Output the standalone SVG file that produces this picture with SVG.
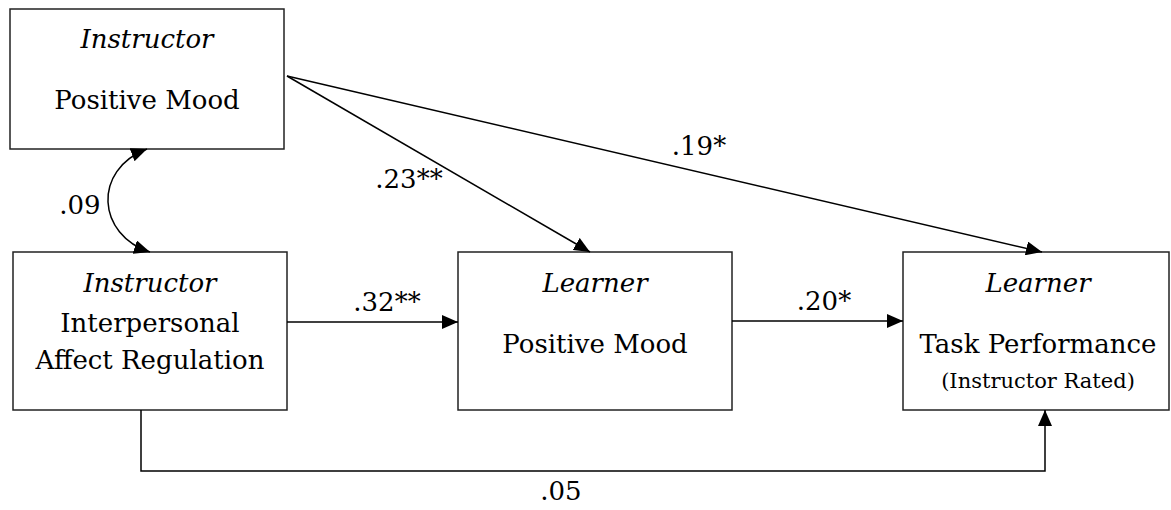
<svg xmlns="http://www.w3.org/2000/svg" width="1171" height="510" viewBox="0 0 1171 510">
<style>
.box{fill:#fff;stroke:#222;stroke-width:1.5}
.t{font-family:'DejaVu Serif','Liberation Serif',serif;font-size:26px;fill:#000;text-anchor:middle}
.i{font-style:italic}
.s{font-size:21px}
.c{fill:none;stroke:#000;stroke-width:1.5}
</style>
<defs>
<marker id="ah" markerUnits="userSpaceOnUse" markerWidth="16" markerHeight="14" refX="16" refY="7" orient="auto-start-reverse" viewBox="0 0 16 14">
<path d="M0,0 L16,7 L0,14 Z" fill="#000"/>
</marker>
</defs>
<rect width="1171" height="510" fill="#fff"/>
<g id="n1">
<rect class="box" x="10" y="9" width="274" height="140"/>
<text class="t i" x="147" y="48">Instructor</text>
<text class="t" x="147" y="109">Positive Mood</text>
</g>
<g id="n2">
<rect class="box" x="13" y="252" width="274" height="158"/>
<text class="t i" x="150" y="292">Instructor</text>
<text class="t" x="150" y="332">Interpersonal</text>
<text class="t" x="150" y="369">Affect Regulation</text>
</g>
<g id="n3">
<rect class="box" x="458" y="252" width="274" height="158"/>
<text class="t i" x="595" y="292">Learner</text>
<text class="t" x="595" y="353">Positive Mood</text>
</g>
<g id="n4">
<rect class="box" x="903" y="252" width="266" height="158"/>
<text class="t i" x="1038" y="292">Learner</text>
<text class="t" x="1038" y="353">Task Performance</text>
<text class="t s" x="1038" y="388">(Instructor Rated)</text>
</g>
<g id="connectors">
<path class="c" d="M150,252 C97,235 92,170 147,149" marker-start="url(#ah)" marker-end="url(#ah)"/>
<line class="c" x1="287" y1="76" x2="590" y2="252" marker-end="url(#ah)"/>
<line class="c" x1="287" y1="76" x2="1042" y2="252" marker-end="url(#ah)"/>
<line class="c" x1="287" y1="322" x2="458" y2="322" marker-end="url(#ah)"/>
<line class="c" x1="732" y1="321" x2="903" y2="321" marker-end="url(#ah)"/>
<path class="c" d="M141,410 L141,471 L1045,471 L1045,410" marker-end="url(#ah)"/>
</g>
<g id="labels">
<text class="t" x="80" y="214">.09</text>
<text class="t" x="409" y="188">.23**</text>
<text class="t" x="699" y="155">.19*</text>
<text class="t" x="387" y="311">.32**</text>
<text class="t" x="824" y="310">.20*</text>
<text class="t" x="561" y="500">.05</text>
</g>
</svg>
